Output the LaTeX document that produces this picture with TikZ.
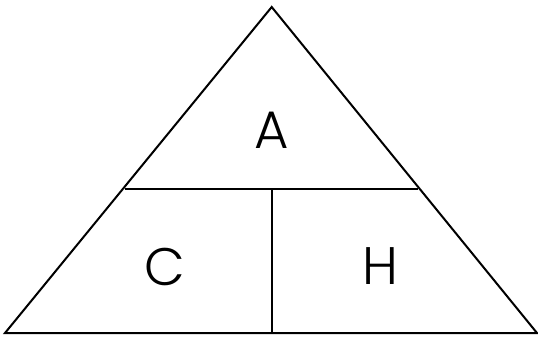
\documentclass[tikz,border=0pt]{standalone}
\usepackage{fontspec}
\setmainfont{Poppins}[UprightFont=* Light]
\tikzset{edge/.style={draw=black,line width=2bp,line cap=butt},
lbl/.style={font=\fontsize{53}{57}\selectfont,inner sep=0pt,anchor=center}}
\begin{document}
\begin{tikzpicture}[x=1bp,y=-1bp]
\useasboundingbox[fill=white] (0,0) rectangle (538,336);
\coordinate (T) at (271.7,7);
\coordinate (L) at (5,333);
\coordinate (R) at (537,333);
\coordinate (ML) at (125,189);
\coordinate (MR) at (418,189);
\coordinate (MT) at (271.7,189);
\coordinate (MB) at (271.7,333);
\draw[edge,line join=miter] (L) -- (T) -- (R) -- cycle;
\draw[edge] (ML) -- (MR);
\draw[edge] (MT) -- (MB);
\node[lbl] (a) at (272,130) {A};
\node[lbl] (c) at (165,266.5) {C};
\node[lbl] (h) at (380,266.5) {H};
\end{tikzpicture}
\end{document}
